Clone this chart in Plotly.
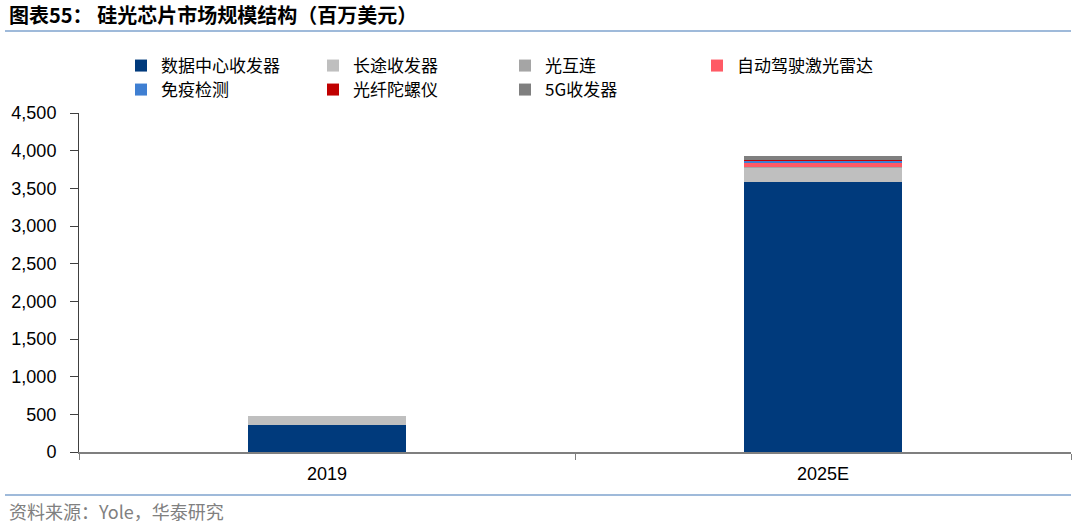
import plotly.graph_objects as go

categories = ["2019", "2025E"]
series_names = ["数据中心收发器", "长途收发器", "光互连", "自动驾驶激光雷达", "免疫检测", "光纤陀螺仪", "5G收发器"]
datacenter = [360, 3590]
long_haul = [120, 190]
interconnect = [0, 5]
lidar = [0, 62]
immuno = [0, 18]
gyro = [0, 13]
g5 = [0, 57]
series_values = [datacenter, long_haul, interconnect, lidar, immuno, gyro, g5]
colors = ["#003A7C", "#BFBFBF", "#A5A5A5", "#FF5A65", "#3F7FD2", "#C00000", "#7F7F7F"]
legend_rows = ["legend", "legend", "legend", "legend", "legend2", "legend2", "legend2"]
y_ticks = [0, 500, 1000, 1500, 2000, 2500, 3000, 3500, 4000, 4500]

W, H = 1080, 526
fig = go.Figure()
for name, vals, col, lg in zip(series_names, series_values, colors, legend_rows):
    fig.add_trace(go.Bar(x=categories, y=vals, name=name, legend=lg,
                         marker=dict(color=col, line=dict(width=0))))

cjk = "Noto Sans CJK SC"
num = "Liberation Sans, Arial"
PW, PH = 992, 339


def legend_cfg(top):
    return dict(
        orientation="h", traceorder="normal",
        xref="container", yref="container",
        x=121 / W, y=1 - top / H, xanchor="left", yanchor="top",
        entrywidth=147, entrywidthmode="pixels",
        font=dict(family=cjk, size=17, color="#000000"),
        itemwidth=30, tracegroupgap=0,
        bgcolor="rgba(0,0,0,0)",
    )


fig.update_layout(
    width=W, height=H,
    barmode="stack", bargap=0.683,
    paper_bgcolor="white", plot_bgcolor="white",
    margin=dict(l=79, r=9, t=113, b=74, autoexpand=False),
    font=dict(family=num, size=18, color="#000000"),
    legend=legend_cfg(48),
    legend2=legend_cfg(72),
    xaxis=dict(
        type="category", showline=True, linecolor="#7F7F7F", linewidth=1.5,
        ticks="outside", tickson="boundaries", ticklen=6, tickcolor="#7F7F7F",
        tickfont=dict(family=num, size=18, color="#000000"),
        ticklabelstandoff=5,
        showgrid=False, zeroline=False,
    ),
    yaxis=dict(
        range=[0, 4500], tickvals=y_ticks, tickformat=",",
        showline=True, linecolor="#404040", linewidth=1,
        ticks="outside", ticklen=8, tickcolor="#404040",
        tickfont=dict(family=num, size=18, color="#000000"),
        ticklabelstandoff=10,
        showgrid=False, zeroline=False,
    ),
    shapes=[
        dict(type="line", xref="paper", yref="paper", x0=-74 / PW, x1=1.0, y0=1 + (113 - 31) / PH, y1=1 + (113 - 31) / PH,
             line=dict(color="#7FA3CE", width=1.5)),
        dict(type="line", xref="paper", yref="paper", x0=-74 / PW, x1=1.0, y0=-(495 - 452) / PH, y1=-(495 - 452) / PH,
             line=dict(color="#7FA3CE", width=1.5)),
    ],
    annotations=[
        dict(text="<b>图表55： 硅光芯片市场规模结构（百万美元）</b>", xref="paper", yref="paper",
             x=-72 / PW, y=1 + (113 - 15) / PH, xanchor="left", yanchor="middle", showarrow=False,
             font=dict(family=cjk, size=20, color="#000000")),
        dict(text="资料来源：Yole，华泰研究", xref="paper", yref="paper",
             x=-72 / PW, y=-(511 - 452) / PH, xanchor="left", yanchor="middle", showarrow=False,
             font=dict(family=cjk, size=18, color="#808080")),
    ],
)
fig.write_html("out.html", config={"displayModeBar": False},
               post_script="document.body.style.margin='0px';document.body.style.padding='0px';")
